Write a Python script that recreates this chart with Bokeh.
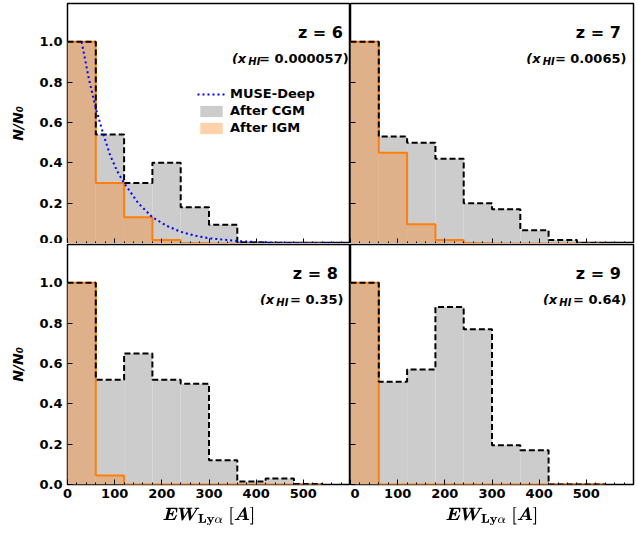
from bokeh.plotting import figure
from bokeh.layouts import gridplot
from bokeh.models import Label, Legend, LegendItem, Range1d, NumeralTickFormatter
from bokeh.embed import file_html
from bokeh.resources import INLINE

# histogram bin edges (EW, Angstrom)
edges = [0, 60, 120, 180, 240, 300, 360, 420, 480, 540]

redshifts = ["6", "7", "8", "9"]
xhi_text = ["0.000057", "0.0065", "0.35", "0.64"]

cgm_z6 = [1.0, 0.54, 0.30, 0.40, 0.18, 0.093, 0.005, 0.003, 0.0]
cgm_z7 = [1.0, 0.53, 0.50, 0.42, 0.20, 0.17, 0.066, 0.017, 0.003]
cgm_z8 = [1.0, 0.52, 0.65, 0.52, 0.50, 0.12, 0.015, 0.03, 0.002]
cgm_z9 = [1.0, 0.51, 0.57, 0.88, 0.77, 0.195, 0.17, 0.0, 0.0]

igm_z6 = [1.0, 0.30, 0.13, 0.017, 0.003, 0.0, 0.0, 0.0, 0.0]
igm_z7 = [1.0, 0.45, 0.096, 0.017, 0.003, 0.0, 0.0, 0.0, 0.0]
igm_z8 = [1.0, 0.045, 0.0, 0.0, 0.0, 0.0, 0.0, 0.0, 0.0]
igm_z9 = [1.0, 0.0, 0.0, 0.0, 0.0, 0.0, 0.0, 0.0, 0.0]

muse_x = [30, 45, 60, 75, 90, 105, 120, 150, 180, 210, 240, 270, 300, 360, 420, 480, 540, 600]
muse_y = [1.0, 0.82, 0.67, 0.55, 0.44, 0.36, 0.30, 0.20, 0.13, 0.088, 0.058, 0.039, 0.026, 0.012, 0.005, 0.002, 0.001, 0.0]

cgm_all = [cgm_z6, cgm_z7, cgm_z8, cgm_z9]
igm_all = [igm_z6, igm_z7, igm_z8, igm_z9]

FONT = "DejaVu Sans"
ORANGE = "#ff7f0e"
LEFT = 67


def step_xy(vals):
    xs, ys = [], []
    for i, v in enumerate(vals):
        xs += [edges[i], edges[i + 1]]
        ys += [v, v]
    xs.append(edges[-1])
    ys.append(0)
    return xs, ys


figs = []
for k in range(4):
    col, rowi = k % 2, k // 2
    p = figure(width=283 + (LEFT if col == 0 else 3), height=240 + (48 if rowi == 1 else 0) + (3 if rowi == 0 else 1),
               x_range=Range1d(0, 600), y_range=Range1d(0, 1.19),
               output_backend="svg", toolbar_location=None,
               min_border_left=LEFT if col == 0 else 0, min_border_right=3 if col == 1 else 0,
               min_border_top=3 if rowi == 0 else 1, min_border_bottom=48 if rowi == 1 else 0)
    p.grid.visible = False
    p.outline_line_color = "black"
    p.outline_line_width = 1.5
    for ax in (p.xaxis, p.yaxis):
        ax.major_tick_in = 5
        ax.major_tick_out = 0
        ax.minor_tick_in = 2
        ax.minor_tick_out = 0
        ax.axis_line_color = None
        ax.major_label_text_font = FONT
        ax.major_label_text_font_style = "bold"
        ax.major_label_text_font_size = "13px"
        ax.major_label_text_color = "black"
        ax.axis_label_text_color = "black"
    p.xaxis.ticker = [0, 100, 200, 300, 400, 500]
    p.xaxis.ticker.minor_ticks = list(range(0, 600, 20))
    p.yaxis.ticker = [0.0, 0.2, 0.4, 0.6, 0.8, 1.0]
    p.yaxis.formatter = NumeralTickFormatter(format="0.0")
    p.yaxis.minor_tick_in = 0
    if col == 1:
        p.yaxis.major_label_text_font_size = "0px"
    else:
        p.yaxis.axis_label = "N/N\u2080"
        p.yaxis.axis_label_text_font = FONT
        p.yaxis.axis_label_text_font_style = "bold italic"
        p.yaxis.axis_label_text_font_size = "14px"
        p.yaxis.axis_label_standoff = 10
    if rowi == 0:
        p.xaxis.major_label_text_font_size = "0px"
        p.xaxis.major_label_standoff = 0
    else:
        p.xaxis.major_label_standoff = 4
        p.xaxis.axis_label = r"$$\boldsymbol{EW}_{\mathbf{Ly\alpha}}\ \boldsymbol{[A]}$$"
        p.xaxis.axis_label_text_font_size = "14px"
        p.xaxis.axis_label_standoff = 6

    cgm, igm = cgm_all[k], igm_all[k]
    r_cgm = p.quad(left=edges[:-1], right=edges[1:], bottom=0, top=cgm,
                   fill_color="#cccccc", line_color=None)
    r_igm = p.quad(left=edges[:-1], right=edges[1:], bottom=0, top=igm,
                   fill_color=ORANGE, fill_alpha=0.35, line_color=None)
    xs, ys = step_xy(igm)
    p.line(xs, ys, line_color=ORANGE, line_width=2)
    xs, ys = step_xy(cgm)
    p.line(xs, ys, line_color="black", line_width=2, line_dash="6 3")

    if k == 0:
        r_muse = p.line(muse_x, muse_y, line_color="blue", line_width=2, line_dash="2 3")
        leg = Legend(items=[LegendItem(label="MUSE-Deep", renderers=[r_muse]),
                            LegendItem(label="After CGM", renderers=[r_cgm]),
                            LegendItem(label="After IGM", renderers=[r_igm])],
                     location=(130, 108), border_line_color=None, background_fill_alpha=0,
                     label_text_font=FONT, label_text_font_style="bold", label_text_font_size="13px",
                     label_text_color="black",
                     glyph_width=28, glyph_height=14, spacing=2, padding=0, label_height=14)
        p.add_layout(leg, "center")

    # panel annotations
    xr = 596 if k == 0 else 585
    p.add_layout(Label(x=xr - 12, y=1.0, text="z = " + redshifts[k], text_align="right",
                       text_font=FONT, text_font_style="bold", text_font_size="16px",
                       text_color="black"))
    rest = "= " + xhi_text[k] + ")"
    p.add_layout(Label(x=xr, y=0.88, text=rest, text_align="right",
                       text_font=FONT, text_font_style="bold", text_font_size="13px",
                       text_color="black"))
    wpx = len(rest) * 8.3 - 3
    xs_start = xr - wpx / 0.472
    p.add_layout(Label(x=xs_start, y=0.875, text="HI", text_align="right",
                       text_font=FONT, text_font_style="bold italic", text_font_size="10px",
                       text_color="black"))
    p.add_layout(Label(x=xs_start - 30, y=0.88, text="(x", text_align="right",
                       text_font=FONT, text_font_style="bold italic", text_font_size="13px",
                       text_color="black"))
    figs.append(p)

grid = gridplot([[figs[0], figs[1]], [figs[2], figs[3]]], toolbar_location=None)
open("out.html", "w").write(file_html(grid, INLINE))
